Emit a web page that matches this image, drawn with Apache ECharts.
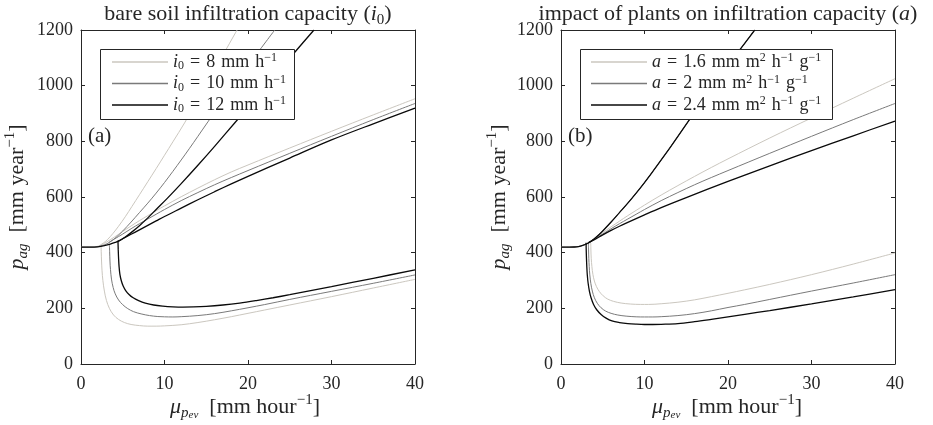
<!DOCTYPE html>
<html>
<head>
<meta charset="utf-8">
<script src="https://cdn.jsdelivr.net/npm/echarts@6/dist/echarts.min.js"></script>
<style>html,body{margin:0;padding:0;background:#fff}#c{width:933px;height:425px}</style>
</head>
<body>
<div id="c"></div>
<script>
// ---------- data ----------
const xTicks = [0, 10, 20, 30, 40];
const yTicks = [0, 200, 400, 600, 800, 1000, 1200];

// Panel (a): bare soil infiltration capacity i0 = 8, 10, 12 mm/h
const i8Steep   = [[0,420],[1,420],[1.5,420.3],[1.9,422],[2.3,427],[2.7,435],[3.2,448],[3.8,468],[4.5,495],[5.3,529],[6.1,566],[7,608],[8,655],[9,702],[10,750],[11,798],[12.4,866],[14,950],[15.5,1030],[17,1110],[18.5,1190],[18.7,1200]];
const i8Linear  = [[2.4,426],[3,437],[4,456],[5,476],[6,496],[7,515],[8,533],[9,551],[10,568],[12,601],[14,632],[16,662],[18,690],[20,715],[25,776],[30,836],[35,895],[40,953]];
const i8Lower   = [[2.4,426],[2.42,405],[2.46,370],[2.52,335],[2.62,300],[2.8,262],[3.05,228],[3.4,200],[3.9,176],[4.5,160],[5.2,149],[6,142],[7,138],[8,136],[9,136],[10,137],[12,141],[14,149],[16,159],[18,170],[20,182],[22,194],[25,212],[30,242],[35,273],[40,304]];

const i10Steep  = [[0,420],[1,420],[1.6,420.3],[2.1,422],[2.6,426],[3.1,432],[3.6,441],[4.2,455],[5,478],[6,510],[7,544],[8,578],[9,614],[10,652],[11,692],[12,733],[13,775],[14,818],[15.2,870],[16.5,925],[18,988],[19.5,1050],[21,1112],[22.2,1160],[23.2,1200]];
const i10Linear = [[3.35,437],[4,449],[5,467],[6,486],[7,504],[8,521],[9,538],[10,555],[12,587],[14,616],[16,644],[18,670],[20,695],[25,757],[30,818],[35,878],[40,936]];
const i10Lower  = [[3.4,432],[3.43,405],[3.47,370],[3.53,340],[3.65,305],[3.85,275],[4.1,252],[4.5,230],[5,213],[5.6,199],[6.3,188],[7.2,180],[8.2,174],[9.2,170.5],[10,169.5],[11,169],[12,170],[14,174],[16,181],[18,191],[20,202],[22,213.5],[25,232],[30,261],[35,290],[40,320]];

const i12Steep  = [[0,420],[1,420],[2,421],[2.8,425],[3.5,431],[4.1,437],[4.6,443],[5.3,456],[6,472],[7,497],[8,525],[9,555],[10.3,594],[12,648],[14,714],[16,782],[18.4,866],[21,957],[23,1028],[25.6,1120],[27.9,1200]];
const i12Linear = [[4.4,440],[5,450],[6,466],[7,482],[8,498],[9,514],[10,530],[12,560],[14,590],[16,619],[18,647],[20,674],[25,740],[30,805],[35,863],[40,919]];
const i12Lower  = [[4.43,440],[4.46,410],[4.5,380],[4.56,350],[4.66,322],[4.82,300],[5.05,280],[5.35,264],[5.75,250],[6.25,238],[6.9,228],[7.7,219],[8.7,212],[9.8,208],[11,205.5],[12.2,204.5],[13.5,205],[15,207],[17,212],[19,219],[21,228],[23,238],[25,249],[30,278],[35,308],[40,338]];

// Panel (b): impact of plants on infiltration capacity a = 1.6, 2, 2.4
const aSteep     = [[0,420],[1,420],[1.6,420.3],[2.1,422],[2.6,426],[3.1,432],[3.6,441],[4.2,455],[5,478],[6,510],[7,544],[8,578],[9,614],[10,652],[11,692],[12,733],[13,775],[14,818],[15.2,870],[16.5,925],[18,988],[19.5,1050],[21,1112],[22.2,1160],[23.2,1200]];
const a16Linear  = [[3.4,438],[4,451],[5,472],[6,493],[7,513],[8,533],[9,552],[10,571],[12,607],[14,641],[16,674],[18,706],[20,737],[25,812],[30,884],[35,955],[40,1025]];
const a16Lower   = [[3.56,436],[3.58,410],[3.62,380],[3.7,350],[3.82,322],[4,298],[4.25,278],[4.6,260],[5.05,245],[5.6,233],[6.3,225],[7.2,219],[8.3,215.5],[9.5,214],[10.5,214],[12,216.5],[14,222],[16,230.5],[18,242],[20,254],[22,266.5],[25,286],[30,321],[35,359],[40,399]];
const a2Linear   = [[3.35,437],[4,449],[5,467],[6,486],[7,504],[8,521],[9,538],[10,555],[12,587],[14,616],[16,644],[18,670],[20,695],[25,757],[30,818],[35,878],[40,936]];
const a2Lower    = [[3.28,436],[3.3,410],[3.33,380],[3.38,350],[3.45,320],[3.57,290],[3.75,262],[4,238],[4.35,218],[4.8,202],[5.35,190],[6,182],[6.8,176],[7.8,172],[9,169.5],[10,169],[11,169],[12,170],[14,174],[16,181],[18,191],[20,203],[22,214],[25,232],[30,262],[35,291],[40,321]];
const a24Linear  = [[3.3,436],[4,447],[5,464],[6,480],[7,495],[8,509],[10,536],[12,562],[15,598],[20,656],[25,712],[30,767],[35,820],[40,873]];
const a24Lower   = [[3.0,436],[3.02,410],[3.05,380],[3.09,350],[3.15,320],[3.25,290],[3.4,262],[3.6,238],[3.9,214],[4.3,194],[4.8,178],[5.4,165],[6.1,155],[7,149],[8,145],[9,143],[10,142],[11,142],[12,142.5],[14,145],[16,152],[18,160.5],[20,169.5],[22,178.5],[25,192],[30,216],[35,241],[40,267]];

// ---------- styling ----------
const FONT = 'Liberation Serif';
const INK = '#262626';
const C_LIGHT = '#cbc7bf', C_MID = '#7a7a7a', C_DARK = '#0a0a0a';
const W_LIGHT = 1, W_MID = 1, W_DARK = 1.3;
const SP = '\u2002';
const LS = '\u2004';

function rich(base, small) {
  const lh = base + 6;
  return {
    it:  {fontFamily: FONT, fontSize: base, fontStyle: 'italic', lineHeight: lh, fill: INK, color: INK},
    rm:  {fontFamily: FONT, fontSize: base, lineHeight: lh, fill: INK, color: INK},
    sub: {fontFamily: FONT, fontSize: small, fontStyle: 'italic', verticalAlign: 'bottom', lineHeight: lh, fill: INK, color: INK},
    sub0:{fontFamily: FONT, fontSize: small, verticalAlign: 'bottom', lineHeight: lh, fill: INK, color: INK},
    sub2:{fontFamily: FONT, fontSize: Math.round(small * 0.75), fontStyle: 'italic', verticalAlign: 'bottom', lineHeight: lh - 4, fill: INK, color: INK},
    sup: {fontFamily: FONT, fontSize: small, verticalAlign: 'top', lineHeight: lh, fill: INK, color: INK}
  };
}

function grids() {
  return [
    {left: 81, top: 30, width: 334, height: 334},
    {left: 561, top: 30, width: 334, height: 334}
  ];
}
function xAx(gi, pos, labels) {
  return {type: 'value', gridIndex: gi, position: pos, min: xTicks[0], max: xTicks[xTicks.length-1], interval: 10,
    axisLine: {show: true, onZero: false, lineStyle: {color: INK, width: 1}},
    axisTick: {show: true, inside: true, length: 4, lineStyle: {color: INK}},
    axisLabel: {show: labels, color: INK, fontFamily: FONT, fontSize: 18, margin: 11, formatter: v => String(v)},
    splitLine: {show: false}};
}
function yAx(gi, pos, labels) {
  return {type: 'value', gridIndex: gi, position: pos, min: yTicks[0], max: yTicks[yTicks.length-1], interval: 200,
    axisLine: {show: true, onZero: false, lineStyle: {color: INK, width: 1}},
    axisTick: {show: true, inside: true, length: 4, lineStyle: {color: INK}},
    axisLabel: {show: labels, color: INK, fontFamily: FONT, fontSize: 18, margin: 8, formatter: v => String(v)},
    splitLine: {show: false}};
}
function line(name, data, color, width, axis) {
  return {type: 'line', name: name, data: data, xAxisIndex: axis, yAxisIndex: axis,
    showSymbol: false, symbol: 'none', smooth: 0.35, clip: true,
    lineStyle: {color: color, width: width}, itemStyle: {color: color}, z: 2};
}

const legendNames = {
  'i8':  '{it|i}{sub0|0}' + LS + '=' + LS + '8' + LS + 'mm' + LS + 'h{sup|−1}',
  'i10': '{it|i}{sub0|0}' + LS + '=' + LS + '10' + LS + 'mm' + LS + 'h{sup|−1}',
  'i12': '{it|i}{sub0|0}' + LS + '=' + LS + '12' + LS + 'mm' + LS + 'h{sup|−1}',
  'a16': '{it|a}' + LS + '=' + LS + '1.6' + LS + 'mm' + LS + 'm{sup|2}' + LS + 'h{sup|−1}' + LS + 'g{sup|−1}',
  'a2':  '{it|a}' + LS + '=' + LS + '2' + LS + 'mm' + LS + 'm{sup|2}' + LS + 'h{sup|−1}' + LS + 'g{sup|−1}',
  'a24': '{it|a}' + LS + '=' + LS + '2.4' + LS + 'mm' + LS + 'm{sup|2}' + LS + 'h{sup|−1}' + LS + 'g{sup|−1}'
};
const legRich = {
  it:  {fontFamily: FONT, fontSize: 18, fontStyle: 'italic', lineHeight: 20, color: INK},
  sub0:{fontFamily: FONT, fontSize: 12, verticalAlign: 'bottom', lineHeight: 20, color: INK},
  sup: {fontFamily: FONT, fontSize: 12, verticalAlign: 'top', lineHeight: 20, color: INK}
};
const legendColors = {i8: C_LIGHT, i10: C_MID, i12: C_DARK, a16: C_LIGHT, a2: C_MID, a24: C_DARK};
function legend(left, names) {
  return {show: true, orient: 'vertical', left: left, top: 52,
    data: names.map(n => ({name: n, icon: 'rect', itemStyle: {color: legendColors[n]}})),
    itemWidth: 56, itemHeight: 1.3, itemGap: 1.5, padding: 0,
    borderWidth: 0, backgroundColor: 'transparent',
    formatter: n => legendNames[n],
    textStyle: {fontFamily: FONT, fontSize: 18, color: INK, lineHeight: 20, rich: legRich},
    z: 10};
}
function legendFrame(x, y, w, h) {
  return {type: 'rect', z: 5, shape: {x: x + 0.5, y: y + 0.5, width: w, height: h},
    style: {fill: '#ffffff', stroke: INK, lineWidth: 1}};
}

function gtext(x, y, text, size, rot, align) {
  return {type: 'text', x: x, y: y, rotation: rot || 0, z: 20,
    style: {text: text, fontFamily: FONT, fontSize: size, fill: INK, align: align || 'center', verticalAlign: 'middle',
      lineHeight: size + 6, rich: rich(size, Math.round(size * 0.66))}};
}

const chart = echarts.init(document.getElementById('c'), null, {renderer: 'canvas'});
chart.setOption({
  animation: false,
  backgroundColor: '#ffffff',
  grid: grids(),
  xAxis: [xAx(0, 'bottom', true), xAx(0, 'top', false), xAx(1, 'bottom', true), xAx(1, 'top', false)],
  yAxis: [yAx(0, 'left', true), yAx(0, 'right', false), yAx(1, 'left', true), yAx(1, 'right', false)],
  legend: [legend(112, ['i8', 'i10', 'i12']), legend(591, ['a16', 'a2', 'a24'])],
  series: [
    line('i8', i8Steep, C_LIGHT, W_LIGHT, 0), line('i8', i8Linear, C_LIGHT, W_LIGHT, 0), line('i8', i8Lower, C_LIGHT, W_LIGHT, 0),
    line('i10', i10Steep, C_MID, W_MID, 0), line('i10', i10Linear, C_MID, W_MID, 0), line('i10', i10Lower, C_MID, W_MID, 0),
    line('i12', i12Steep, C_DARK, W_DARK, 0), line('i12', i12Linear, C_DARK, W_DARK, 0), line('i12', i12Lower, C_DARK, W_DARK, 0),
    line('a16', aSteep, C_LIGHT, W_LIGHT, 2), line('a16', a16Linear, C_LIGHT, W_LIGHT, 2), line('a16', a16Lower, C_LIGHT, W_LIGHT, 2),
    line('a2', aSteep, C_MID, W_MID, 2), line('a2', a2Linear, C_MID, W_MID, 2), line('a2', a2Lower, C_MID, W_MID, 2),
    line('a24', aSteep, C_DARK, W_DARK, 2), line('a24', a24Linear, C_DARK, W_DARK, 2), line('a24', a24Lower, C_DARK, W_DARK, 2)
  ],
  graphic: [
    legendFrame(100, 49, 194, 70),
    legendFrame(580, 49, 252, 70),
    gtext(248, 14, '{rm|bare soil infiltration capacity (}{it|i}{sub0|0}{rm|)}', 22),
    gtext(728, 14, '{rm|impact of plants on infiltration capacity (}{it|a}{rm|)}', 22),
    gtext(88, 136, '{rm|(a)}', 21, 0, 'left'),
    gtext(568, 136, '{rm|(b)}', 21, 0, 'left'),
    gtext(17, 197, '{it|p}{sub|ag}{rm|' + SP + '[mm year}{sup|−1}{rm|]}', 22, Math.PI / 2),
    gtext(499, 197, '{it|p}{sub|ag}{rm|' + SP + '[mm year}{sup|−1}{rm|]}', 22, Math.PI / 2),
    gtext(245, 407, '{it|μ}{sub|p}{sub2|ev}{rm|' + SP + '[mm hour}{sup|−1}{rm|]}', 22),
    gtext(727, 407, '{it|μ}{sub|p}{sub2|ev}{rm|' + SP + '[mm hour}{sup|−1}{rm|]}', 22)
  ]
});
</script>
</body>
</html>
